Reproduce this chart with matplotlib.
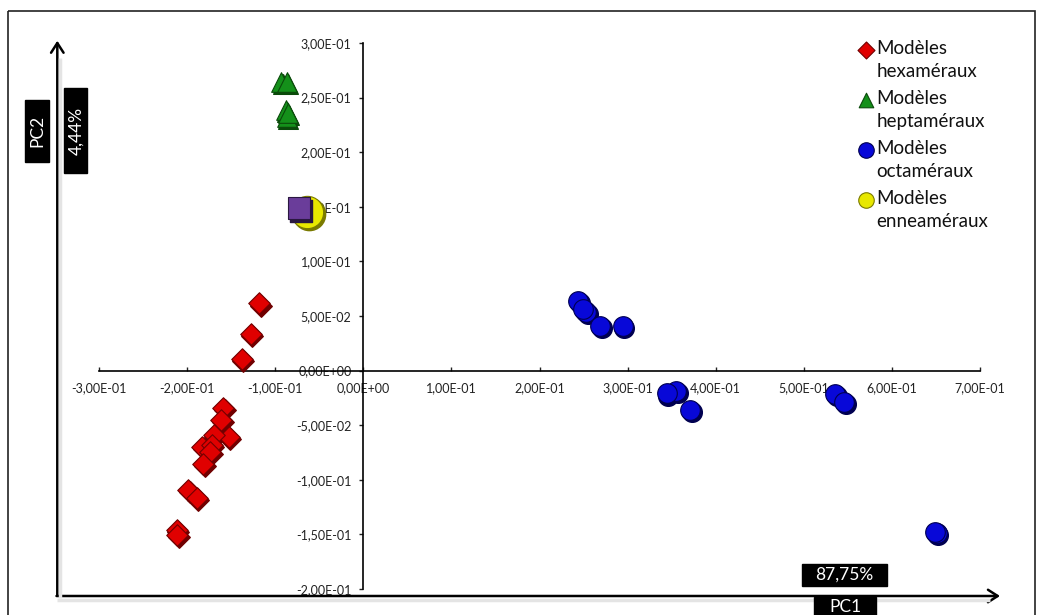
import matplotlib
matplotlib.use("Agg")
import matplotlib.pyplot as plt
from matplotlib.patches import Rectangle, FancyArrowPatch
from matplotlib.ticker import FixedLocator, FuncFormatter
from matplotlib.transforms import offset_copy

plt.rcParams["font.family"] = ["Lato", "DejaVu Sans"]

# PCA scores (PC1, PC2)
hex_x = [-0.118, -0.128, -0.138, -0.159, -0.161, -0.153, -0.170, -0.183,
         -0.172, -0.174, -0.182, -0.199, -0.189, -0.212, -0.211]
hex_y = [0.0615, 0.0334, 0.0105, -0.0346, -0.0453, -0.0606, -0.059, -0.0698,
         -0.0682, -0.0743, -0.0859, -0.1094, -0.117, -0.146, -0.1506]

hept_x = [-0.093, -0.087, -0.088, -0.087, -0.086]
hept_y = [0.2645, 0.2645, 0.2385, 0.2325, 0.236]

oct_x = [0.244, 0.2528, 0.2494, 0.2687, 0.2944, 0.355, 0.3444, 0.3708,
         0.5354, 0.5456, 0.651, 0.649]
oct_y = [0.0639, 0.0538, 0.0563, 0.0408, 0.0408, -0.0185, -0.0209, -0.0362,
         -0.0215, -0.0291, -0.1485, -0.1476]

ennea_x = [-0.064]
ennea_y = [0.145]

other_x = [-0.073]
other_y = [0.1485]

labels = ["Modèles\nhexaméraux", "Modèles\nheptaméraux",
          "Modèles\noctaméraux", "Modèles\nenneaméraux"]

x_ticks = [-0.3, -0.2, -0.1, 0.0, 0.1, 0.2, 0.3, 0.4, 0.5, 0.6, 0.7]
y_ticks = [-0.2, -0.15, -0.1, -0.05, 0.0, 0.05, 0.1, 0.15, 0.2, 0.25, 0.3]

W, H = 1043, 615
fig = plt.figure(figsize=(W / 100, H / 100), dpi=100)

# overlay in pixel coordinates for frame, arrows, boxes, legend
ov = fig.add_axes([0, 0, 1, 1])
ov.set_xlim(0, W)
ov.set_ylim(H, 0)
ov.axis("off")

ax = fig.add_axes([99 / W, 1 - 589 / H, 881 / W, 546 / H])
ax.patch.set_visible(False)
ax.set_xlim(-0.3, 0.7)
ax.set_ylim(-0.2, 0.3)
for s in ["top", "right"]:
    ax.spines[s].set_visible(False)
ax.spines["left"].set_position(("data", 0))
ax.spines["bottom"].set_position(("data", 0))
for s in ["left", "bottom"]:
    ax.spines[s].set_linewidth(1.2)
ax.xaxis.set_major_locator(FixedLocator(x_ticks))
ax.yaxis.set_major_locator(FixedLocator(y_ticks))
fmt = FuncFormatter(lambda v, p: f"{v:.2E}".replace(".", ","))
ax.xaxis.set_major_formatter(fmt)
ax.yaxis.set_major_formatter(fmt)
ax.tick_params(axis="x", direction="in", length=3, width=1, pad=8.5,
               labelsize=9, colors="#222222")
ax.tick_params(axis="y", direction="out", length=3, width=1, pad=5.5,
               labelsize=9, colors="#222222")

# shaded copy under each marker gives a bit of relief
shade = offset_copy(ax.transData, fig=fig, x=1.2, y=-1.5, units="points")


def points(x, y, marker, size, fc, dark, z):
    ax.scatter(x, y, marker=marker, s=size, c=dark, edgecolors=dark,
               linewidths=1, transform=shade, zorder=z)
    ax.scatter(x, y, marker=marker, s=size, c=fc, edgecolors=dark,
               linewidths=0.8, zorder=z)


points(hex_x, hex_y, "D", 120, "#e00000", "#700000", 3)
points(hept_x, hept_y, "^", 200, "#14901a", "#0a4a0a", 3)
points(oct_x, oct_y, "o", 200, "#0808d8", "#000050", 3)
points(ennea_x, ennea_y, "o", 540, "#e8e800", "#7a7a00", 3)
points(other_x, other_y, "s", 240, "#6a3d9a", "#2a1840", 4)

# outer frame
ov.add_patch(Rectangle((8.3, 10.7), 1026.5, 610, fill=False, lw=1.2,
                       ec="#222222", clip_on=False))

# axis arrows with soft shadow
ov.plot([59.5, 59.5], [598, 58], color="#e4e4e4", lw=2.5, solid_capstyle="butt")
ov.plot([57, 990], [599.5, 599.5], color="#e4e4e4", lw=2.5,
        solid_capstyle="butt")
ov.add_patch(FancyArrowPatch((57.3, 595), (57.3, 40.7),
                             arrowstyle="->,head_length=7,head_width=4.5",
                             lw=1.8, color="black", shrinkA=0, shrinkB=0))
ov.add_patch(FancyArrowPatch((56.5, 596), (1000, 596),
                             arrowstyle="->,head_length=7,head_width=4.5",
                             lw=1.8, color="black", shrinkA=0, shrinkB=0))

# black label boxes
boxes = [((25, 100), 24, 62, "PC2", 90, (37.5, 131)),
         ((64, 88), 23, 85, "4,44%", 90, (76, 130.5)),
         ((802, 564), 85, 22, "87,75%", 0, (844.5, 575)),
         ((814, 597), 62, 24, "PC1", 0, (845, 607))]
for (bx, by), bw, bh, txt, rot, (tx, ty) in boxes:
    ov.add_patch(Rectangle((bx, by), bw, bh, color="black", zorder=5))
    ov.text(tx, ty, txt, color="white", fontsize=12.5, rotation=rot,
            ha="center", va="center", zorder=6)

# legend
leg_markers = [("D", 75, "#e00000", "#700000"),
               ("^", 110, "#14901a", "#0a4a0a"),
               ("o", 125, "#0808d8", "#000050"),
               ("o", 125, "#e8e800", "#7a7a00")]
for i, ((m, sz, fc, ec), lab) in enumerate(zip(leg_markers, labels)):
    yy = 49.5 + 50 * i
    ov.scatter([866], [yy], marker=m, s=sz, c=fc, edgecolors=ec,
               linewidths=0.8, zorder=5)
    ov.text(876.5, yy - 10, lab, fontsize=13.5, ha="left", va="top",
            linespacing=1.48, color="#111111")

fig.savefig("out.png", dpi=100)
